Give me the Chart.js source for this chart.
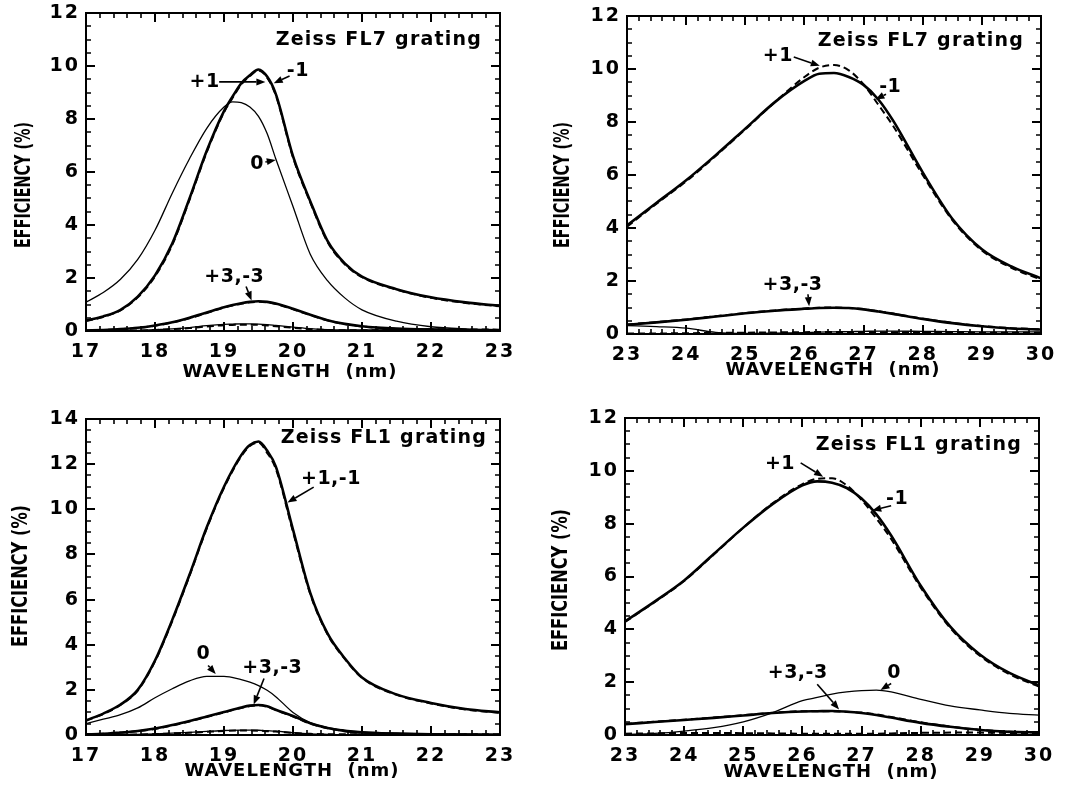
<!DOCTYPE html>
<html>
<head>
<meta charset="utf-8">
<script src="https://cdn.jsdelivr.net/npm/chart.js@4.4.1/dist/chart.umd.min.js"></script>
<style>
  html, body { margin: 0; padding: 0; background: #fff; }
  #wrap { position: relative; width: 1074px; height: 788px; overflow: hidden; }
  canvas { position: absolute; }
</style>
</head>
<body>
<div id="wrap">
  <canvas id="pA" width="537" height="394" style="left:0;top:0"></canvas>
  <canvas id="pB" width="537" height="394" style="left:537px;top:0"></canvas>
  <canvas id="pC" width="537" height="394" style="left:0;top:394px"></canvas>
  <canvas id="pD" width="537" height="394" style="left:537px;top:394px"></canvas>
</div>
<script>
// ---- Zeiss FL7 grating, 17–23 nm ----
const WL_A = [17, 17.25, 17.5, 17.75, 18, 18.25, 18.5, 18.75, 19, 19.125, 19.25, 19.375, 19.5, 19.625, 19.75, 20, 20.25, 20.5, 20.75, 21, 21.5, 22, 22.5, 23];
const A_MINUS1 = [0.40, 0.55, 0.80, 1.30, 2.10, 3.30, 5.00, 6.80, 8.30, 8.85, 9.35, 9.65, 9.87, 9.60, 8.95, 6.60, 4.90, 3.40, 2.55, 2.05, 1.58, 1.27, 1.08, 0.95];
const A_PLUS1  = [0.38, 0.53, 0.78, 1.27, 2.06, 3.25, 4.95, 6.75, 8.25, 8.80, 9.30, 9.62, 9.83, 9.56, 8.90, 6.55, 4.85, 3.36, 2.52, 2.03, 1.56, 1.25, 1.06, 0.93];
const A_ZERO   = [1.09, 1.45, 1.95, 2.70, 3.80, 5.20, 6.50, 7.65, 8.45, 8.65, 8.62, 8.45, 8.10, 7.45, 6.50, 4.70, 2.90, 1.90, 1.25, 0.80, 0.37, 0.16, 0.08, 0.05];
const A_PLUS3  = [0.02, 0.04, 0.07, 0.12, 0.20, 0.32, 0.48, 0.68, 0.88, 0.96, 1.03, 1.08, 1.10, 1.08, 1.02, 0.82, 0.60, 0.40, 0.26, 0.17, 0.08, 0.05, 0.03, 0.02];
const A_MINUS3 = [0.02, 0.04, 0.07, 0.12, 0.21, 0.33, 0.50, 0.70, 0.90, 0.98, 1.05, 1.10, 1.12, 1.10, 1.04, 0.84, 0.61, 0.41, 0.27, 0.18, 0.09, 0.05, 0.03, 0.02];
const A_PLUS2  = [0.00, 0.00, 0.01, 0.02, 0.05, 0.08, 0.13, 0.20, 0.25, 0.26, 0.27, 0.27, 0.26, 0.24, 0.21, 0.15, 0.09, 0.05, 0.04, 0.04, 0.06, 0.08, 0.06, 0.04];
const A_MINUS2 = [0.00, 0.00, 0.01, 0.02, 0.04, 0.07, 0.11, 0.17, 0.22, 0.23, 0.24, 0.24, 0.23, 0.21, 0.18, 0.12, 0.07, 0.04, 0.03, 0.03, 0.05, 0.07, 0.06, 0.05];

// ---- Zeiss FL7 grating, 23–30 nm ----
const WL_B = [23, 23.5, 24, 24.5, 25, 25.5, 26, 26.25, 26.5, 26.75, 27, 27.25, 27.5, 28, 28.5, 29, 29.5, 30];
const B_MINUS1 = [4.10, 4.95, 5.80, 6.75, 7.75, 8.75, 9.55, 9.82, 9.85, 9.70, 9.40, 8.85, 8.05, 6.10, 4.35, 3.20, 2.55, 2.10];
const B_PLUS1  = [4.05, 4.92, 5.76, 6.72, 7.72, 8.75, 9.70, 10.05, 10.15, 9.95, 9.42, 8.65, 7.85, 6.00, 4.30, 3.15, 2.50, 2.05];
const B_ZERO   = [0.32, 0.28, 0.22, 0.06, 0.02, 0.03, 0.05, 0.07, 0.08, 0.09, 0.10, 0.11, 0.11, 0.10, 0.09, 0.08, 0.08, 0.08];
const B_PLUS3  = [0.36, 0.45, 0.55, 0.67, 0.79, 0.89, 0.96, 0.99, 1.00, 0.98, 0.94, 0.86, 0.77, 0.58, 0.42, 0.30, 0.22, 0.18];
const B_MINUS3 = [0.35, 0.44, 0.54, 0.66, 0.78, 0.88, 0.95, 0.98, 0.99, 0.98, 0.93, 0.85, 0.76, 0.57, 0.41, 0.29, 0.21, 0.17];
const B_PLUS2  = [0.02, 0.02, 0.03, 0.04, 0.05, 0.06, 0.07, 0.08, 0.08, 0.08, 0.08, 0.07, 0.07, 0.06, 0.05, 0.05, 0.05, 0.05];

// ---- Zeiss FL1 grating, 17–23 nm ----
const WL_C = [17, 17.25, 17.5, 17.75, 18, 18.25, 18.5, 18.75, 19, 19.25, 19.375, 19.5, 19.625, 19.75, 20, 20.25, 20.5, 20.75, 21, 21.5, 22, 22.5, 23];
const C_MINUS1 = [0.65, 0.95, 1.35, 2.00, 3.30, 5.10, 7.10, 9.20, 11.00, 12.40, 12.85, 13.00, 12.60, 11.90, 9.10, 6.30, 4.50, 3.40, 2.55, 1.80, 1.42, 1.15, 1.00];
const C_PLUS1  = [0.63, 0.93, 1.33, 1.97, 3.26, 5.05, 7.05, 9.15, 10.95, 12.35, 12.80, 12.95, 12.50, 11.80, 9.00, 6.25, 4.46, 3.37, 2.53, 1.78, 1.40, 1.13, 0.98];
const C_ZERO   = [0.50, 0.70, 0.90, 1.20, 1.65, 2.05, 2.40, 2.60, 2.60, 2.45, 2.34, 2.19, 1.98, 1.70, 1.00, 0.55, 0.33, 0.22, 0.15, 0.08, 0.05, 0.03, 0.02];
const C_PLUS3  = [0.03, 0.05, 0.10, 0.17, 0.27, 0.42, 0.60, 0.80, 1.00, 1.20, 1.28, 1.32, 1.25, 1.10, 0.82, 0.50, 0.30, 0.17, 0.10, 0.05, 0.03, 0.02, 0.01];
const C_MINUS3 = [0.03, 0.05, 0.11, 0.18, 0.29, 0.44, 0.62, 0.82, 1.02, 1.22, 1.30, 1.33, 1.27, 1.12, 0.84, 0.52, 0.31, 0.18, 0.11, 0.06, 0.03, 0.02, 0.01];
const C_PLUS2  = [0.00, 0.01, 0.02, 0.03, 0.05, 0.08, 0.12, 0.16, 0.20, 0.22, 0.22, 0.21, 0.19, 0.17, 0.10, 0.05, 0.03, 0.02, 0.02, 0.02, 0.02, 0.02, 0.02];
const C_MINUS2 = [0.00, 0.01, 0.01, 0.02, 0.04, 0.07, 0.10, 0.14, 0.18, 0.20, 0.20, 0.19, 0.17, 0.15, 0.09, 0.05, 0.03, 0.03, 0.03, 0.03, 0.03, 0.03, 0.03];

// ---- Zeiss FL1 grating, 23–30 nm ----
const WL_D = [23, 23.5, 24, 24.5, 25, 25.5, 26, 26.25, 26.5, 26.75, 27, 27.25, 27.5, 28, 28.5, 29, 29.5, 30];
const D_MINUS1 = [4.30, 5.05, 5.85, 6.85, 7.85, 8.75, 9.45, 9.60, 9.55, 9.35, 8.95, 8.35, 7.55, 5.65, 4.10, 3.05, 2.35, 1.88];
const D_PLUS1  = [4.28, 5.03, 5.83, 6.83, 7.85, 8.78, 9.50, 9.70, 9.72, 9.45, 8.90, 8.20, 7.42, 5.58, 4.05, 3.00, 2.30, 1.83];
const D_ZERO   = [0.02, 0.06, 0.15, 0.28, 0.50, 0.85, 1.30, 1.42, 1.55, 1.63, 1.68, 1.70, 1.63, 1.35, 1.10, 0.95, 0.82, 0.75];
const D_PLUS3  = [0.42, 0.50, 0.58, 0.66, 0.75, 0.84, 0.90, 0.90, 0.90, 0.88, 0.85, 0.78, 0.68, 0.48, 0.32, 0.20, 0.12, 0.10];
const D_MINUS3 = [0.41, 0.49, 0.57, 0.65, 0.74, 0.83, 0.89, 0.90, 0.91, 0.88, 0.83, 0.76, 0.66, 0.46, 0.31, 0.19, 0.12, 0.10];
const D_PLUS2  = [0.05, 0.06, 0.08, 0.08, 0.07, 0.06, 0.05, 0.05, 0.05, 0.05, 0.05, 0.05, 0.06, 0.08, 0.09, 0.09, 0.08, 0.08];

// ---- order labels: text position and arrow (tail -> head), in data units ----
const NOTES_A = [
  { text: '+1', at: [18.72, 9.38], arrow: [18.93, 9.40, 19.60, 9.40] },
  { text: '-1', at: [20.07, 9.80], arrow: [19.95, 9.62, 19.72, 9.35] },
  { text: '0', at: [19.48, 6.30], arrow: [19.60, 6.38, 19.75, 6.45] },
  { text: '+3,-3', at: [19.15, 2.05], arrow: [19.32, 1.68, 19.40, 1.15] }
];
const NOTES_B = [
  { text: '+1', at: [25.55, 10.50], arrow: [25.82, 10.45, 26.26, 10.12] },
  { text: '-1', at: [27.45, 9.30], arrow: [27.38, 9.05, 27.20, 8.85] },
  { text: '+3,-3', at: [25.80, 1.86], arrow: [26.06, 1.50, 26.08, 1.05] }
];
const NOTES_C = [
  { text: '+1,-1', at: [20.55, 11.35], arrow: [20.30, 10.98, 19.92, 10.30] },
  { text: '0', at: [18.70, 3.60], arrow: [18.77, 3.08, 18.88, 2.70] },
  { text: '+3,-3', at: [19.70, 2.95], arrow: [19.58, 2.50, 19.43, 1.35] }
];
const NOTES_D = [
  { text: '+1', at: [25.62, 10.25], arrow: [25.97, 10.30, 26.35, 9.78] },
  { text: '-1', at: [27.60, 8.95], arrow: [27.50, 8.68, 27.18, 8.50] },
  { text: '+3,-3', at: [25.92, 2.36], arrow: [26.25, 1.92, 26.62, 0.97] },
  { text: '0', at: [27.55, 2.36], arrow: [27.50, 1.95, 27.32, 1.70] }
];

const FONT = '"DejaVu Sans", sans-serif';

// wider glyph spacing for the tick numbers drawn by the scales
const spacingPlugin = {
  id: 'spacing',
  beforeDraw(chart) { chart.ctx.letterSpacing = '2px'; },
  afterDraw(chart) { chart.ctx.letterSpacing = '0px'; }
};

// Frame: closed box, inward major/minor ticks, axis titles, panel title and order labels
const framePlugin = {
  id: 'frame',
  afterDatasetsDraw(chart, args, o) {
    const { ctx, chartArea: a, scales: { x, y } } = chart;
    ctx.save();
    ctx.letterSpacing = '0px';
    ctx.strokeStyle = '#000';
    ctx.fillStyle = '#000';

    const ticks = (scale, minor, major, horizontal) => {
      const n = Math.round((scale.max - scale.min) / minor);
      for (let i = 0; i <= n; i++) {
        const v = scale.min + i * minor;
        const isMajor = Math.abs(v / major - Math.round(v / major)) < 1e-6;
        const len = isMajor ? 9 : 5;
        ctx.lineWidth = isMajor ? 2 : 1.6;
        const p = Math.round(scale.getPixelForValue(v));
        ctx.beginPath();
        if (horizontal) {
          ctx.moveTo(p, a.bottom); ctx.lineTo(p, a.bottom - len);
          ctx.moveTo(p, a.top); ctx.lineTo(p, a.top + len);
        } else {
          ctx.moveTo(a.left, p); ctx.lineTo(a.left + len, p);
          ctx.moveTo(a.right, p); ctx.lineTo(a.right - len, p);
        }
        ctx.stroke();
      }
    };
    ticks(x, o.xMinor, o.xMajor, true);
    ticks(y, o.yMinor, o.yMajor, false);

    ctx.lineWidth = 2;
    ctx.strokeRect(a.left, a.top, a.right - a.left, a.bottom - a.top);

    ctx.textBaseline = 'middle';

    // x axis title
    ctx.font = 'bold 18px ' + FONT;
    ctx.letterSpacing = '1px';
    ctx.textAlign = 'center';
    ctx.fillText(o.xTitle, o.xTitlePos[0], o.xTitlePos[1]);

    // y axis title, rotated and condensed to its printed length
    ctx.letterSpacing = '0px';
    ctx.font = 'bold 21px ' + FONT;
    const w = ctx.measureText(o.yTitle).width;
    ctx.save();
    ctx.translate(o.yTitlePos[0], o.yTitlePos[1]);
    ctx.rotate(-Math.PI / 2);
    ctx.scale(o.yTitleLen / w, 1);
    ctx.fillText(o.yTitle, 0, 0);
    ctx.restore();

    // panel title
    ctx.font = 'bold 19px ' + FONT;
    ctx.letterSpacing = '1.2px';
    ctx.textAlign = 'right';
    ctx.fillText(o.title, a.right - o.titleGap, a.top + o.titleDrop);

    // order labels with arrows
    ctx.letterSpacing = '0.5px';
    ctx.textAlign = 'center';
    for (const n of o.notes) {
      ctx.font = 'bold 19px ' + FONT;
      ctx.fillText(n.text, x.getPixelForValue(n.at[0]), y.getPixelForValue(n.at[1]));
      const x1 = x.getPixelForValue(n.arrow[0]), y1 = y.getPixelForValue(n.arrow[1]);
      const x2 = x.getPixelForValue(n.arrow[2]), y2 = y.getPixelForValue(n.arrow[3]);
      const ang = Math.atan2(y2 - y1, x2 - x1);
      const hl = 9, hw = 3.5;
      const bx = x2 - hl * Math.cos(ang), by = y2 - hl * Math.sin(ang);
      ctx.lineWidth = 1.6;
      ctx.beginPath(); ctx.moveTo(x1, y1); ctx.lineTo(bx, by); ctx.stroke();
      ctx.beginPath();
      ctx.moveTo(x2, y2);
      ctx.lineTo(bx + hw * Math.sin(ang), by - hw * Math.cos(ang));
      ctx.lineTo(bx - hw * Math.sin(ang), by + hw * Math.cos(ang));
      ctx.closePath(); ctx.fill();
    }
    ctx.restore();
  }
};

function series(wl, vals, style) {
  const base = { borderColor: '#000', pointRadius: 0, fill: false, cubicInterpolationMode: 'monotone' };
  const s = style === 'thick' ? { borderWidth: 2.6 }
          : style === 'dash' ? { borderWidth: 2.0, borderDash: [7, 4] }
          : { borderWidth: 1.3 };
  return Object.assign(base, s, { data: wl.map((w, i) => ({ x: w, y: vals[i] })) });
}

function makePanel(id, cfg) {
  const W = 537, H = 394;
  new Chart(document.getElementById(id), {
    type: 'line',
    data: { datasets: cfg.datasets },
    plugins: [spacingPlugin, framePlugin],
    options: {
      responsive: false,
      animation: false,
      events: [],
      layout: { padding: { left: 0, top: cfg.area.top, right: W - cfg.area.right, bottom: 0 } },
      plugins: {
        legend: { display: false },
        tooltip: { enabled: false },
        frame: {
          title: cfg.title, titleGap: cfg.titleGap, titleDrop: cfg.titleDrop, notes: cfg.notes,
          xTitle: 'WAVELENGTH  (nm)', xTitlePos: cfg.xTitlePos,
          yTitle: 'EFFICIENCY (%)', yTitlePos: cfg.yTitlePos, yTitleLen: cfg.yTitleLen,
          xMajor: 1, xMinor: 0.2, yMajor: 2, yMinor: 0.5
        }
      },
      scales: {
        x: {
          type: 'linear', min: cfg.xMin, max: cfg.xMax,
          afterFit: s => { s.height = H - cfg.area.bottom; s.paddingLeft = 0; s.paddingRight = 0; },
          ticks: { stepSize: 1, color: '#000', padding: 10, maxRotation: 0, font: { family: FONT, size: 19, weight: 'bold' } },
          grid: { drawOnChartArea: false, drawTicks: false },
          border: { display: false }
        },
        y: {
          type: 'linear', min: 0, max: cfg.yMax,
          afterFit: s => { s.width = cfg.area.left; s.paddingTop = 0; s.paddingBottom = 0; },
          ticks: { stepSize: 2, color: '#000', padding: 6, font: { family: FONT, size: 19, weight: 'bold' } },
          grid: { drawOnChartArea: false, drawTicks: false },
          border: { display: false }
        }
      }
    }
  });
}

makePanel('pA', {
  xMin: 17, xMax: 23, yMax: 12,
  area: { left: 86, right: 500, top: 13, bottom: 331 },
  title: 'Zeiss FL7 grating', titleGap: 18, titleDrop: 27, notes: NOTES_A,
  xTitlePos: [290, 372], yTitlePos: [25, 185], yTitleLen: 126,
  datasets: [
    series(WL_A, A_ZERO, 'thin'),
    series(WL_A, A_PLUS2, 'thin'),
    series(WL_A, A_MINUS2, 'dash'),
    series(WL_A, A_MINUS3, 'thick'),
    series(WL_A, A_PLUS3, 'dash'),
    series(WL_A, A_MINUS1, 'thick'),
    series(WL_A, A_PLUS1, 'dash')
  ]
});

makePanel('pB', {
  xMin: 23, xMax: 30, yMax: 12,
  area: { left: 90, right: 504, top: 16, bottom: 334 },
  title: 'Zeiss FL7 grating', titleGap: 17, titleDrop: 25, notes: NOTES_B,
  xTitlePos: [296, 370], yTitlePos: [27, 185], yTitleLen: 126,
  datasets: [
    series(WL_B, B_ZERO, 'thin'),
    series(WL_B, B_PLUS2, 'dash'),
    series(WL_B, B_MINUS3, 'thick'),
    series(WL_B, B_PLUS3, 'dash'),
    series(WL_B, B_MINUS1, 'thick'),
    series(WL_B, B_PLUS1, 'dash')
  ]
});

makePanel('pC', {
  xMin: 17, xMax: 23, yMax: 14,
  area: { left: 86, right: 500, top: 25, bottom: 341 },
  title: 'Zeiss FL1 grating', titleGap: 13, titleDrop: 19, notes: NOTES_C,
  xTitlePos: [292, 377], yTitlePos: [22, 182], yTitleLen: 142,
  datasets: [
    series(WL_C, C_ZERO, 'thin'),
    series(WL_C, C_PLUS2, 'thin'),
    series(WL_C, C_MINUS2, 'dash'),
    series(WL_C, C_MINUS3, 'thick'),
    series(WL_C, C_PLUS3, 'dash'),
    series(WL_C, C_MINUS1, 'thick'),
    series(WL_C, C_PLUS1, 'dash')
  ]
});

makePanel('pD', {
  xMin: 23, xMax: 30, yMax: 12,
  area: { left: 88, right: 502, top: 24, bottom: 341 },
  title: 'Zeiss FL1 grating', titleGap: 17, titleDrop: 27, notes: NOTES_D,
  xTitlePos: [294, 378], yTitlePos: [25, 186], yTitleLen: 142,
  datasets: [
    series(WL_D, D_ZERO, 'thin'),
    series(WL_D, D_PLUS2, 'dash'),
    series(WL_D, D_MINUS3, 'thick'),
    series(WL_D, D_PLUS3, 'dash'),
    series(WL_D, D_MINUS1, 'thick'),
    series(WL_D, D_PLUS1, 'dash')
  ]
});
</script>
</body>
</html>
